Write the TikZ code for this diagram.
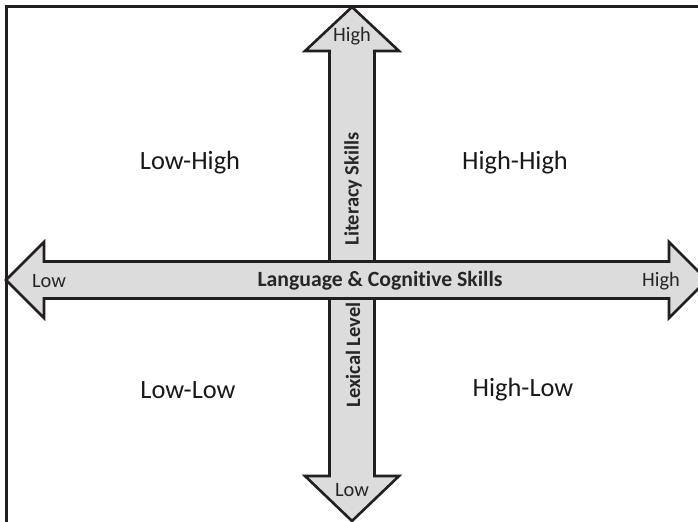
\documentclass[tikz,border=0pt]{standalone}
\usepackage{fontspec}
\setmainfont{Carlito}[Ligatures={NoCommon}]
\begin{document}
\begin{tikzpicture}[x=1bp,y=-1bp,
  arrowshape/.style={fill=arrowgray,draw=framecol,line width=2.6bp,line join=miter},
  quad/.style={font=\fontsize{26.5}{30}\selectfont,text=black!90},
  endlbl/.style={font=\fontsize{20.5}{24}\selectfont,text=black!85,inner sep=0pt},
  axislbl/.style={font=\bfseries\fontsize{20.5}{24}\selectfont,text=black!85,inner sep=0pt}]
\definecolor{arrowgray}{HTML}{DCDCDC}
\definecolor{framecol}{HTML}{231F20}
\useasboundingbox (0,0) rectangle (698,522);
\clip (0,0) rectangle (698,522);
% frame (top and left sides)
\draw[framecol,line width=3bp] (6,522) -- (6,7) -- (700,7);
% vertical double arrow
\draw[arrowshape] (352,7) -- (399,51) -- (374.5,51) -- (374.5,476) -- (399,476)
  -- (352,521) -- (305,476) -- (329.5,476) -- (329.5,51) -- (305,51) -- cycle;
% horizontal double arrow
\draw[arrowshape] (6,280) -- (44,242) -- (44,261.5) -- (669,261.5) -- (669,242)
  -- (707,280) -- (669,318) -- (669,298.5) -- (44,298.5) -- (44,318) -- cycle;
% quadrant labels
\node[quad] (lh) at (190,163) {Low-High};
\node[quad] (hh) at (515,163) {High-High};
\node[quad] (ll) at (188,390) {Low-Low};
\node[quad] (hl) at (523,390) {High-Low};
% arrow labels
\node[endlbl] (xlow) at (49,281) {Low};
\node[endlbl] (xhigh) at (661,281) {High};
\node[endlbl] (yhigh) at (352,36) {High};
\node[endlbl] (ylow) at (352,490) {Low};
\node[axislbl,font=\bfseries\fontsize{21.8}{25}\selectfont] (xaxis) at (380,281) {Language \& Cognitive Skills};
\node[axislbl,rotate=90] (lit) at (353,189) {Literacy Skills};
\node[axislbl,rotate=90] (lex) at (353,355) {Lexical Level};
\end{tikzpicture}
\end{document}
